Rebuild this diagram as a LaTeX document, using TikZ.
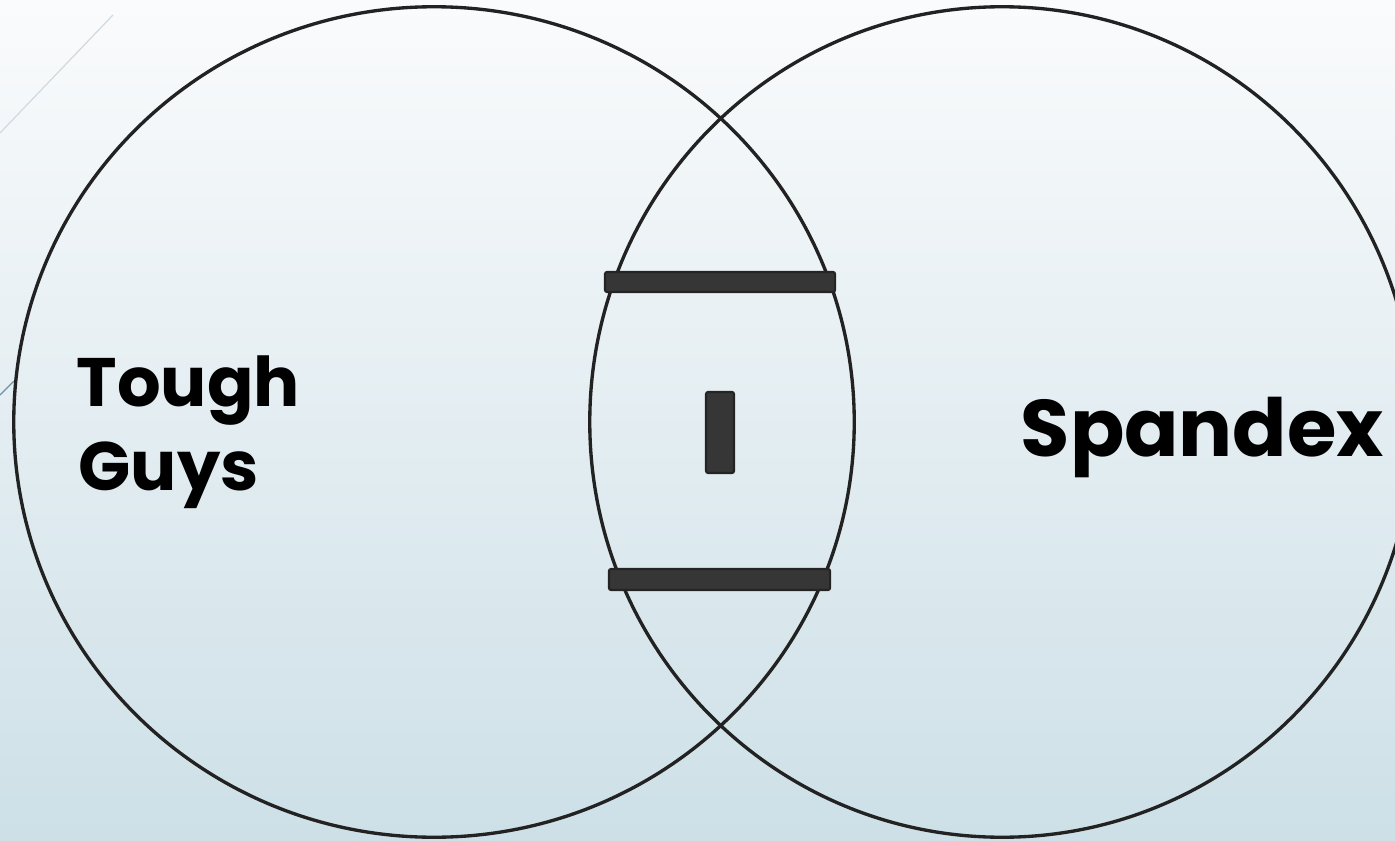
\documentclass[tikz,border=0pt]{standalone}
\usepackage{fontspec}
\setmainfont{Poppins}
\usetikzlibrary{shapes.geometric}
\definecolor{bgtop}{RGB}{250,251,252}
\definecolor{bgbot}{RGB}{205,224,231}
\definecolor{ring}{RGB}{34,34,34}
\definecolor{barfill}{RGB}{54,54,54}
\definecolor{barline}{RGB}{36,36,36}
\definecolor{faint}{RGB}{208,218,224}
\definecolor{faintblue}{RGB}{110,145,170}
\tikzset{
  ring/.style={draw=ring, line width=0.95pt, ellipse, inner sep=0pt},
  bar/.style={draw=barline, fill=barfill, line width=0.6pt, rounded corners=0.6pt, inner sep=0pt},
  label/.style={font=\fontsize{19.5}{23.4}\selectfont\bfseries, text=black, inner sep=0pt},
  biglabel/.style={font=\fontsize{22.8}{26}\selectfont\bfseries, text=black, inner sep=0pt},
}
\begin{document}
\begin{tikzpicture}[x=0.01cm, y=-0.01cm]
\useasboundingbox (0,0) rectangle (1395,840);
\shade[top color=bgtop, bottom color=bgbot] (0,0) rectangle (1395,840);
% faint decoration lines
\coordinate (f1a) at (0,133);
\coordinate (f1b) at (113,15);
\draw[faint, line width=0.35pt] (f1a) -- (f1b);
\coordinate (f2a) at (0,395);
\coordinate (f2b) at (14,381);
\draw[faintblue, line width=0.35pt] (f2a) -- (f2b);
% circles
\node[ring, minimum width=8.40cm, minimum height=8.30cm] (left) at (434,422) {};
\node[ring, minimum width=8.24cm, minimum height=8.30cm] (right) at (1002,422) {};
% bars
\node[bar, minimum width=2.30cm, minimum height=0.20cm] (topbar) at (720,282) {};
\node[bar, minimum width=2.21cm, minimum height=0.21cm] (botbar) at (719.5,579.5) {};
\node[bar, minimum width=0.28cm, minimum height=0.81cm] (midbar) at (720,432.5) {};
% labels
\node[label, anchor=base west] (tough) at (76,406) {Tough};
\node[label, anchor=base west] (guys) at (78,490) {Guys};
\node[biglabel, anchor=base west] (spandex) at (1020,456) {Spandex};
\end{tikzpicture}
\end{document}
